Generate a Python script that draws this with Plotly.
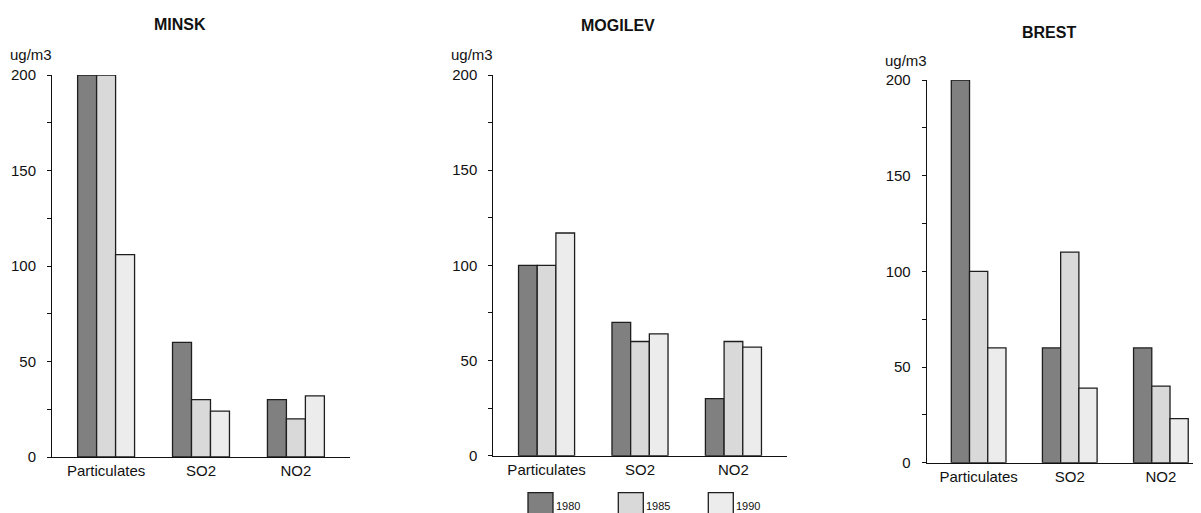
import plotly.graph_objects as go

# page body has an 8px margin; figure is sized/positioned to compensate
OFF = 8
W, H = 1201 - OFF, 513 - OFF

categories = ["Particulates", "SO2", "NO2"]
years = ["1980", "1985", "1990"]
colors = ["#808080", "#d9d9d9", "#ececec"]

minsk_1980 = [200, 60, 30]
minsk_1985 = [200, 30, 20]
minsk_1990 = [106, 24, 32]

mogilev_1980 = [100, 70, 30]
mogilev_1985 = [100, 60, 60]
mogilev_1990 = [117, 64, 57]

brest_1980 = [200, 60, 60]
brest_1985 = [100, 110, 40]
brest_1990 = [60, 39, 23]

cities = ["MINSK", "MOGILEV", "BREST"]
city_values = [
    [minsk_1980, minsk_1985, minsk_1990],
    [mogilev_1980, mogilev_1985, mogilev_1990],
    [brest_1980, brest_1985, brest_1990],
]


def px(x):
    return (x - OFF) / W


def py(y):
    return 1 - (y - OFF) / H


# layout in window pixels: (x_left, x_right, y_top, y_bottom, xrange_right)
panels = [
    (52.0, 350.0, 75.0, 457.0, 2.57),
    (493.3, 786.7, 75.0, 455.7, 2.57),
    (926.7, 1201.0, 80.0, 462.7, 2.44),
]
title_pos = [(180, 24), (618, 25), (1049, 32)]
unit_pos = [55, 55, 60.5]

FONT = "Liberation Sans, Arial, sans-serif"

fig = go.Figure()
annotations = []
for i, (city, vals) in enumerate(zip(cities, city_values)):
    sfx = "" if i == 0 else str(i + 1)
    for yr, col, v in zip(years, colors, vals):
        fig.add_trace(go.Bar(
            x=categories, y=v, name=yr,
            marker=dict(color=col, line=dict(color="#1e1e1e", width=1.3)),
            xaxis="x" + sfx, yaxis="y" + sfx, showlegend=False,
            offsetgroup=yr,
        ))
    xl, xr, yt, yb, rr = panels[i]
    fig.layout["xaxis" + sfx] = dict(
        domain=[px(xl), min(px(xr), 1.0)], anchor="y" + sfx, automargin=False,
        range=[-0.57, rr], showline=True, linecolor="#111", linewidth=1,
        ticks="", showgrid=False, zeroline=False,
        tickfont=dict(family=FONT, size=15, color="#111"),
    )
    fig.layout["yaxis" + sfx] = dict(
        domain=[py(yb), py(yt)], anchor="x" + sfx, automargin=False,
        range=[0, 200], showline=True, linecolor="#111", linewidth=1,
        ticks="outside", ticklen=4, tickcolor="#111",
        tickvals=[0, 25, 50, 75, 100, 125, 150, 175, 200],
        ticktext=["0", "", "50", "", "100", "", "150", "", "200"],
        showgrid=False, zeroline=False, ticklabelstandoff=8,
        tickfont=dict(family=FONT, size=15, color="#111"),
    )
    tx, ty = title_pos[i]
    annotations.append(dict(
        text="<b>" + city + "</b>", xref="paper", yref="paper",
        x=px(tx), y=py(ty), xanchor="center", yanchor="middle",
        showarrow=False, font=dict(family=FONT, size=16, color="#111"),
    ))
    annotations.append(dict(
        text="ug/m3", xref="paper", yref="paper",
        x=px(xl + 2), y=py(unit_pos[i]), xanchor="right", yanchor="middle",
        showarrow=False, font=dict(family=FONT, size=15, color="#111"),
    ))

# manual legend (large swatches)
shapes = []
legend_x = [528, 618.3, 708.3]
for yr, col, lx in zip(years, colors, legend_x):
    shapes.append(dict(
        type="rect", xref="paper", yref="paper",
        x0=px(lx), x1=px(lx + 25), y0=py(518), y1=py(492.7),
        fillcolor=col, line=dict(color="#1e1e1e", width=1.3),
    ))
    annotations.append(dict(
        text=yr, xref="paper", yref="paper",
        x=px(lx + 26), y=py(505.5), xanchor="left", yanchor="middle",
        showarrow=False, font=dict(family=FONT, size=11, color="#111"),
    ))

fig.update_layout(
    width=W, height=H, margin=dict(l=0, r=0, t=0, b=0),
    paper_bgcolor="white", plot_bgcolor="white",
    barmode="group", bargap=0.4, bargroupgap=0,
    annotations=annotations, shapes=shapes,
)

fig.write_html("out.html")
